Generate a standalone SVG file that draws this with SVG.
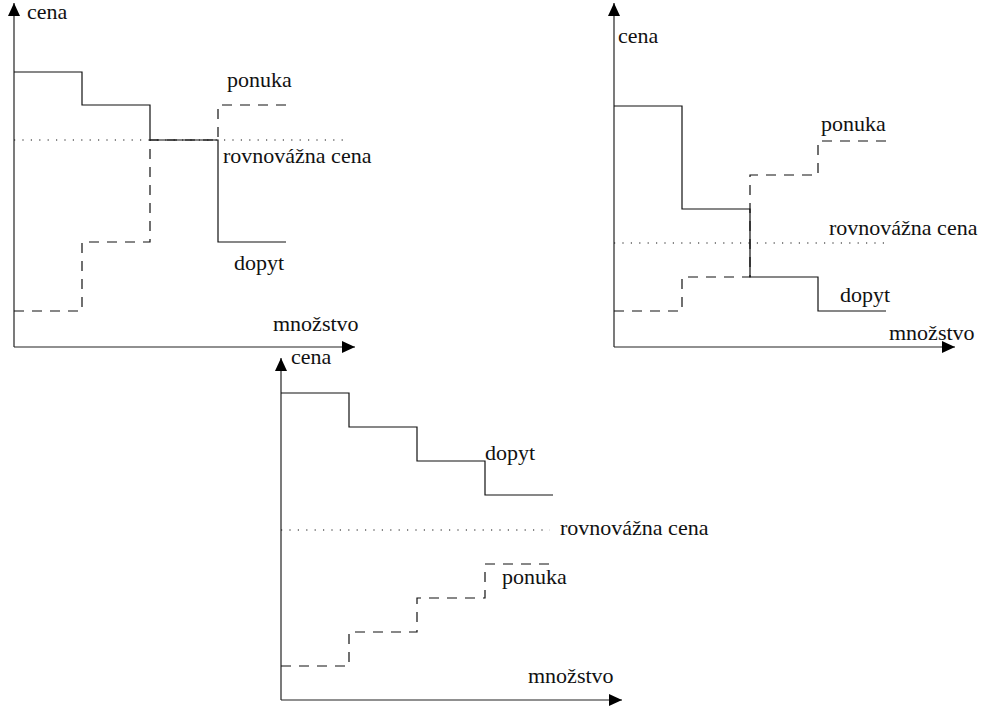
<svg xmlns="http://www.w3.org/2000/svg" width="985" height="709" viewBox="0 0 985 709">
<defs>
<marker id="arr" markerUnits="userSpaceOnUse" markerWidth="14" markerHeight="12" refX="13" refY="6" orient="auto">
<path d="M0,0 L13,6 L0,12 z" fill="#000"/>
</marker>
<style>
.axis{fill:none;stroke:#222;stroke-width:1.2;marker-end:url(#arr)}
.dem{fill:none;stroke:#111;stroke-width:1.2}
.sup{fill:none;stroke:#111;stroke-width:1.2;stroke-dasharray:10 8}
.eq{fill:none;stroke:#111;stroke-width:1.2;stroke-dasharray:1.2 7.2}
.lbl{font-size:22px;fill:#111}
</style>
</defs>
<rect width="985" height="709" fill="#fff"/>

<g id="chart1" font-family="'Liberation Serif', 'DejaVu Serif', serif">
<g id="c1-connectors">
<path class="axis" d="M14,347 V3"/>
<path class="axis" d="M14,347 H355"/>
<path class="eq" d="M14,140 H350"/>
<path class="sup" d="M14,311 H82 V242 H150 V140 H218 V105 H286"/>
<path class="dem" d="M14,72 H82 V105 H150 V140 H218 V242 H286"/>
</g>
<text class="lbl" x="27" y="19">cena</text>
<text class="lbl" x="227" y="87">ponuka</text>
<text class="lbl" x="223" y="163">rovnovážna cena</text>
<text class="lbl" x="234" y="270">dopyt</text>
<text class="lbl" x="273" y="331">množstvo</text>
</g>

<g id="chart2" font-family="'Liberation Serif', 'DejaVu Serif', serif">
<g id="c2-connectors">
<path class="axis" d="M614,347 V3"/>
<path class="axis" d="M614,347 H955"/>
<path class="eq" d="M614,243 H884"/>
<path class="sup" d="M614,311 H682 V277 H750 V175 H818 V141 H886"/>
<path class="dem" d="M614,106 H682 V209 H750 V277 H818 V311 H886"/>
</g>
<text class="lbl" x="618" y="43">cena</text>
<text class="lbl" x="821" y="131">ponuka</text>
<text class="lbl" x="829" y="235">rovnovážna cena</text>
<text class="lbl" x="840" y="302">dopyt</text>
<text class="lbl" x="889" y="340">množstvo</text>
</g>

<g id="chart3" font-family="'Liberation Serif', 'DejaVu Serif', serif">
<g id="c3-connectors">
<path class="axis" d="M281,700 V358"/>
<path class="axis" d="M281,700 H622"/>
<path class="eq" d="M281,530 H550"/>
<path class="sup" d="M281,666 H349 V632 H417 V598 H485 V564 H553"/>
<path class="dem" d="M281,393 H349 V427 H417 V461 H485 V495 H553"/>
</g>
<text class="lbl" x="291" y="364">cena</text>
<text class="lbl" x="485" y="460">dopyt</text>
<text class="lbl" x="560" y="535">rovnovážna cena</text>
<text class="lbl" x="502" y="584">ponuka</text>
<text class="lbl" x="528" y="683">množstvo</text>
</g>
</svg>
